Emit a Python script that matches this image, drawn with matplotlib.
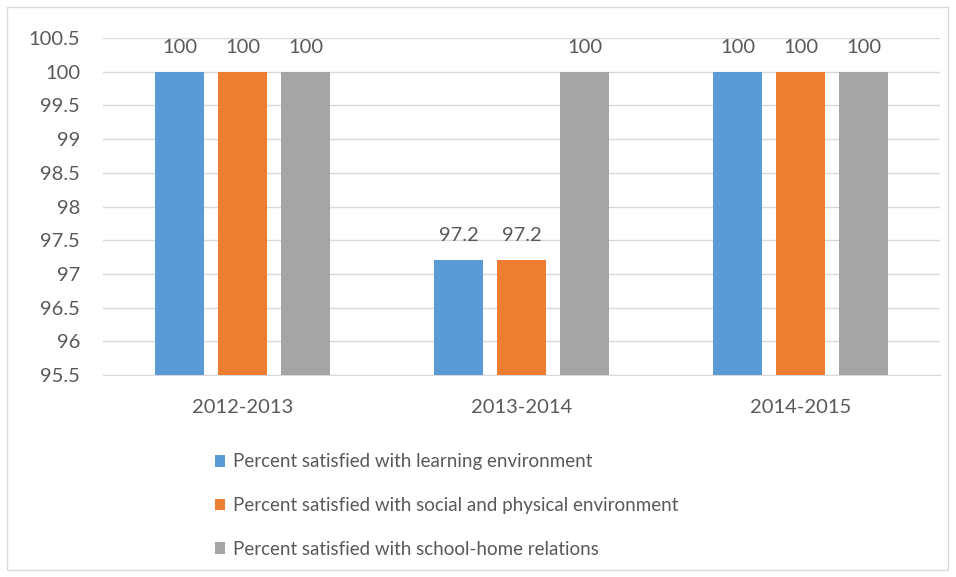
import matplotlib
matplotlib.use("Agg")
import matplotlib.pyplot as plt
from matplotlib.patches import Rectangle
import numpy as np

plt.rcParams['font.family'] = ['Lato', 'DejaVu Sans']

categories = ["2012-2013", "2013-2014", "2014-2015"]
series_names = [
    "Percent satisfied with learning environment",
    "Percent satisfied with social and physical environment",
    "Percent satisfied with school-home relations",
]
learning = [100, 97.2, 100]
social = [100, 97.2, 100]
school_home = [100, 100, 100]
series_values = [learning, social, school_home]
colors = ["#5B9BD5", "#ED7D31", "#A5A5A5"]
yticks = [95.5, 96, 96.5, 97, 97.5, 98, 98.5, 99, 99.5, 100, 100.5]

W, H = 956, 577
fig = plt.figure(figsize=(W / 100, H / 100), dpi=100)
fig.patch.set_facecolor("white")

# outer chart border
fig.add_artist(Rectangle((7 / W, 1 - 570 / H), 941 / W, 563 / H,
                         transform=fig.transFigure, fill=False,
                         edgecolor="#D9D9D9", linewidth=1))

ax = fig.add_axes([103 / W, 1 - 375 / H, 837 / W, 337 / H])
ax.set_facecolor("white")

x = np.arange(len(categories))
bw = 0.175
step = 0.226
text_color = "#595959"
num_fs = 14.5
for i, (vals, name, c) in enumerate(zip(series_values, series_names, colors)):
    pos = x + (i - 1) * step
    ax.bar(pos, np.array(vals) - 95.5, bottom=95.5, width=bw,
           color=c, label=name, zorder=3)
    for p, v in zip(pos, vals):
        ax.text(p, v + 0.24, f"{v:g}", ha="center", va="bottom",
                fontsize=num_fs, color=text_color)

ax.set_xlim(-0.5, 2.5)
ax.set_ylim(95.5, 100.5)
ax.set_yticks(yticks)
ax.set_yticklabels([f"{t:g}" for t in yticks])
ax.set_xticks(x)
ax.set_xticklabels(categories)
ax.tick_params(axis="both", length=0, labelsize=num_fs, labelcolor=text_color)
ax.tick_params(axis="x", pad=17)
ax.tick_params(axis="y", pad=16.5)
ax.grid(axis="y", color="#D9D9D9", linewidth=1, zorder=0)
for s in ["top", "right", "left"]:
    ax.spines[s].set_visible(False)
ax.spines["bottom"].set_color("#D9D9D9")

handles, labels = ax.get_legend_handles_labels()
leg = fig.legend(handles, labels, loc="upper left",
                 bbox_to_anchor=(207 / W, 1 - 446 / H), ncol=1,
                 frameon=False, fontsize=13.5, labelcolor=text_color,
                 handlelength=0.55, handleheight=0.55, handletextpad=0.45,
                 labelspacing=1.42, borderaxespad=0)

fig.savefig("out.png", dpi=100)
